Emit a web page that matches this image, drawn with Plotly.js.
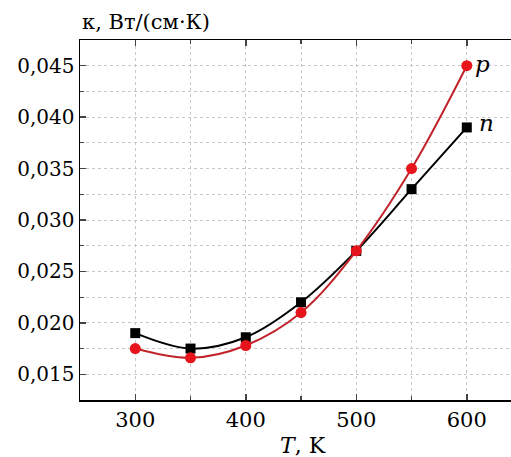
<!DOCTYPE html>
<html>
<head>
<meta charset="utf-8">
<script src="https://cdn.plot.ly/plotly-3.0.1.min.js"></script>
<style>html,body{margin:0;padding:0;background:#fff;}#chart{width:511px;height:457px;}</style>
</head>
<body>
<div id="chart"></div>
<script>
const temperatures = [300, 350, 400, 450, 500, 550, 600];
const kappaN = [0.0190, 0.0175, 0.0186, 0.0220, 0.0270, 0.0330, 0.0390];
const kappaP = [0.0175, 0.0166, 0.0178, 0.0210, 0.0270, 0.0350, 0.0450];
const xTicks = [300, 400, 500, 600];
const yTicks = [0.015, 0.020, 0.025, 0.030, 0.035, 0.040, 0.045];

const serif = 'DejaVu Serif';

const traces = [
  {
    x: temperatures, y: kappaN, type: 'scatter', mode: 'lines+markers',
    line: {color: '#000000', width: 2, shape: 'spline', smoothing: 1},
    marker: {symbol: 'square', size: 10, color: '#000000'},
    name: 'n'
  },
  {
    x: temperatures, y: kappaP, type: 'scatter', mode: 'lines+markers',
    line: {color: '#c0242a', width: 2, shape: 'spline', smoothing: 1},
    marker: {symbol: 'circle', size: 11, color: '#e8141c'},
    name: 'p'
  }
];

const grid = {gridcolor: '#c8c8c8', griddash: 'dot', gridwidth: 1};

const layout = {
  width: 511, height: 457,
  margin: {l: 80, r: 0, t: 40, b: 57},
  paper_bgcolor: '#ffffff', plot_bgcolor: '#ffffff',
  showlegend: false,
  separators: ', ',
  font: {family: serif, color: '#000000', size: 20},
  xaxis: {
    range: [250, 640], tickvals: xTicks, ticks: 'inside', ticklen: 6, tickwidth: 1.5,
    showline: true, linewidth: 1.5, linecolor: '#000', mirror: 'ticks',
    showgrid: true, ...grid, zeroline: false,
    minor: {dtick: 50, ticks: 'inside', ticklen: 4, tickwidth: 1.2, showgrid: true, ...grid},
    tickfont: {family: serif, size: 21}
  },
  yaxis: {
    range: [0.0125, 0.0475], tickvals: yTicks, tickformat: '.3f', ticks: 'inside', ticklen: 6, tickwidth: 1.5,
    showline: true, linewidth: 1.5, linecolor: '#000', mirror: false,
    showgrid: true, ...grid, zeroline: false,
    minor: {dtick: 0.0025, ticks: 'inside', ticklen: 4, tickwidth: 1.2, showgrid: true, ...grid},
    tickfont: {family: serif, size: 20}
  },
  annotations: [
    {xref: 'paper', yref: 'paper', x: 0.0, y: 1, xanchor: 'left', yanchor: 'bottom', yshift: 4,
     text: 'κ, Вт/(см·К)', showarrow: false, font: {family: serif, size: 21}},
    {xref: 'paper', yref: 'paper', x: 0.517, y: 0, xanchor: 'center', yanchor: 'middle', yshift: -45,
     text: '<i>T</i>, K', showarrow: false, font: {family: serif, size: 22}},
    {xref: 'x', yref: 'y', x: 600, y: kappaP[6], xanchor: 'left', yanchor: 'middle', xshift: 6, yshift: 2,
     text: '<i>p</i>', showarrow: false, font: {family: serif, size: 23}},
    {xref: 'x', yref: 'y', x: 600, y: kappaN[6], xanchor: 'left', yanchor: 'middle', xshift: 10, yshift: 4,
     text: '<i>n</i>', showarrow: false, font: {family: serif, size: 23}}
  ]
};

Plotly.newPlot('chart', traces, layout, {displayModeBar: false, staticPlot: true});
</script>
</body>
</html>
